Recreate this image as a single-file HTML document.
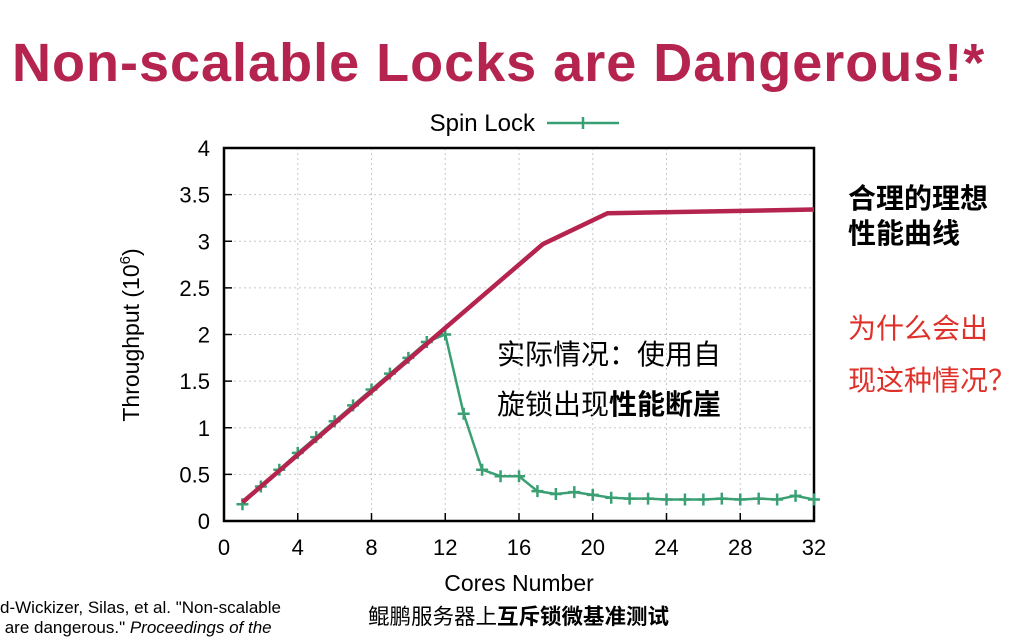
<!DOCTYPE html>
<html><head><meta charset="utf-8">
<style>
body{margin:0;width:1036px;height:632px;overflow:hidden;background:#fff;font-family:"Liberation Sans","Noto Sans CJK SC",sans-serif;}
.t{position:absolute;white-space:nowrap;}
</style></head><body>
<div class="t" style="left:12px;top:32px;font-size:54px;letter-spacing:1px;font-weight:bold;color:#b5244e;">Non-scalable Locks are Dangerous!*</div>
<div class="t" style="left:848px;top:181px;font-size:28px;font-weight:bold;line-height:35px;color:#000;font-family:'Liberation Sans','Noto Sans CJK SC',sans-serif;">合理的理想<br>性能曲线</div>
<div class="t" style="left:848px;top:303px;font-size:28px;line-height:52px;color:#e0302a;font-family:'Liberation Sans','Noto Sans CJK SC',sans-serif;">为什么会出<br>现这种情况？</div>
<div class="t" style="left:497px;top:330px;font-size:28px;line-height:50px;color:#000;font-family:'Liberation Sans','Noto Sans CJK SC',sans-serif;">实际情况：使用自<br>旋锁出现<b>性能断崖</b></div>
<div class="t" style="left:0;top:598px;font-size:17px;line-height:20px;color:#000;">d-Wickizer, Silas, et al. "Non-scalable<br>&nbsp;are dangerous." <i>Proceedings of the</i></div>
<div class="t" style="left:368px;top:600px;font-size:21.5px;color:#000;font-family:'Liberation Sans','Noto Sans CJK SC',sans-serif;">鲲鹏服务器上<b>互斥锁微基准测试</b></div>
<svg id="c" width="1036" height="632" style="position:absolute;left:0;top:0"></svg>
<script>
const xTicks=[0,4,8,12,16,20,24,28,32];
const yTicks=[0,0.5,1,1.5,2,2.5,3,3.5,4];
const yTickLabels=["0","0.5","1","1.5","2","2.5","3","3.5","4"];
const cores=[1,2,3,4,5,6,7,8,9,10,11,12,13,14,15,16,17,18,19,20,21,22,23,24,25,26,27,28,29,30,31,32];
const spinLock=[0.18,0.37,0.55,0.73,0.9,1.07,1.24,1.41,1.58,1.75,1.92,2.0,1.15,0.55,0.48,0.48,0.32,0.29,0.31,0.28,0.25,0.24,0.24,0.23,0.23,0.23,0.24,0.23,0.24,0.23,0.27,0.23];
const idealX=[1,12,17.3,20.8,32];
const idealY=[0.2,2.07,2.97,3.3,3.34];
const L=224,R=814,T=148,B=521;
const sx=v=>L+(v-0)/(32-0)*(R-L);
const sy=v=>B-(v-0)/(4-0)*(B-T);
const svg=document.getElementById('c');
const NS='http://www.w3.org/2000/svg';
function mk(tag,attrs,parent){const e=document.createElementNS(NS,tag);for(const k in attrs)e.setAttribute(k,attrs[k]);(parent||svg).appendChild(e);return e;}
xTicks.forEach((v,i)=>{
 if(v>0&&v<32){const g=mk('line',{x1:sx(v),x2:sx(v),y1:T,y2:B,stroke:'#c8c8c8','stroke-dasharray':'2,3'});
 }
 const tk=mk('line',{x1:sx(v),x2:sx(v),y1:B,y2:B-8,stroke:'#000','stroke-width':1.5});
 
 const t=mk('text',{x:sx(v),y:B+34,'font-size':22,'text-anchor':'middle','font-family':'Liberation Sans'});t.textContent=v;
 
});
yTicks.forEach((v,i)=>{
 if(v>0&&v<4){const g=mk('line',{x1:L,x2:R,y1:sy(v),y2:sy(v),stroke:'#c8c8c8','stroke-dasharray':'2,3'});
 }
 const tk=mk('line',{x1:L,x2:L+8,y1:sy(v),y2:sy(v),stroke:'#000','stroke-width':1.5});
 
 const t=mk('text',{x:L-14,y:sy(v)+8,'font-size':22,'text-anchor':'end','font-family':'Liberation Sans'});t.textContent=yTickLabels[i];
 
});
const fr=mk('rect',{x:L,y:T,width:R-L,height:B-T,fill:'none',stroke:'#000','stroke-width':2.5});

const gp=mk('polyline',{points:cores.map((c,i)=>sx(c)+','+sy(spinLock[i])).join(' '),fill:'none',stroke:'#3aa073','stroke-width':2.5});

cores.forEach((c,i)=>{const x=sx(c),y=sy(spinLock[i]);
 const p=mk('path',{d:`M${x-6},${y}H${x+6}M${x},${y-6}V${y+6}`,stroke:'#3aa073','stroke-width':2.5});
 });
const rp=mk('polyline',{points:idealX.map((c,i)=>sx(c)+','+sy(idealY[i])).join(' '),fill:'none',stroke:'#b5244e','stroke-width':4.5});

const yt=mk('text',{x:0,y:0,'font-size':23,'text-anchor':'middle','font-family':'Liberation Sans',transform:'translate(139,335) rotate(-90)'});
yt.innerHTML='Throughput (10<tspan dy="-9" font-size="15">6</tspan><tspan dy="9">)</tspan>';

const xt=mk('text',{x:519,y:591,'font-size':23,'text-anchor':'middle','font-family':'Liberation Sans'});xt.textContent='Cores Number';

const lt=mk('text',{x:535,y:131,'font-size':24,'text-anchor':'end','font-family':'Liberation Sans'});lt.textContent='Spin Lock';

const ll=mk('path',{d:'M547,123H619M583,117V129',stroke:'#3aa073','stroke-width':2.5});

</script>
</body></html>
